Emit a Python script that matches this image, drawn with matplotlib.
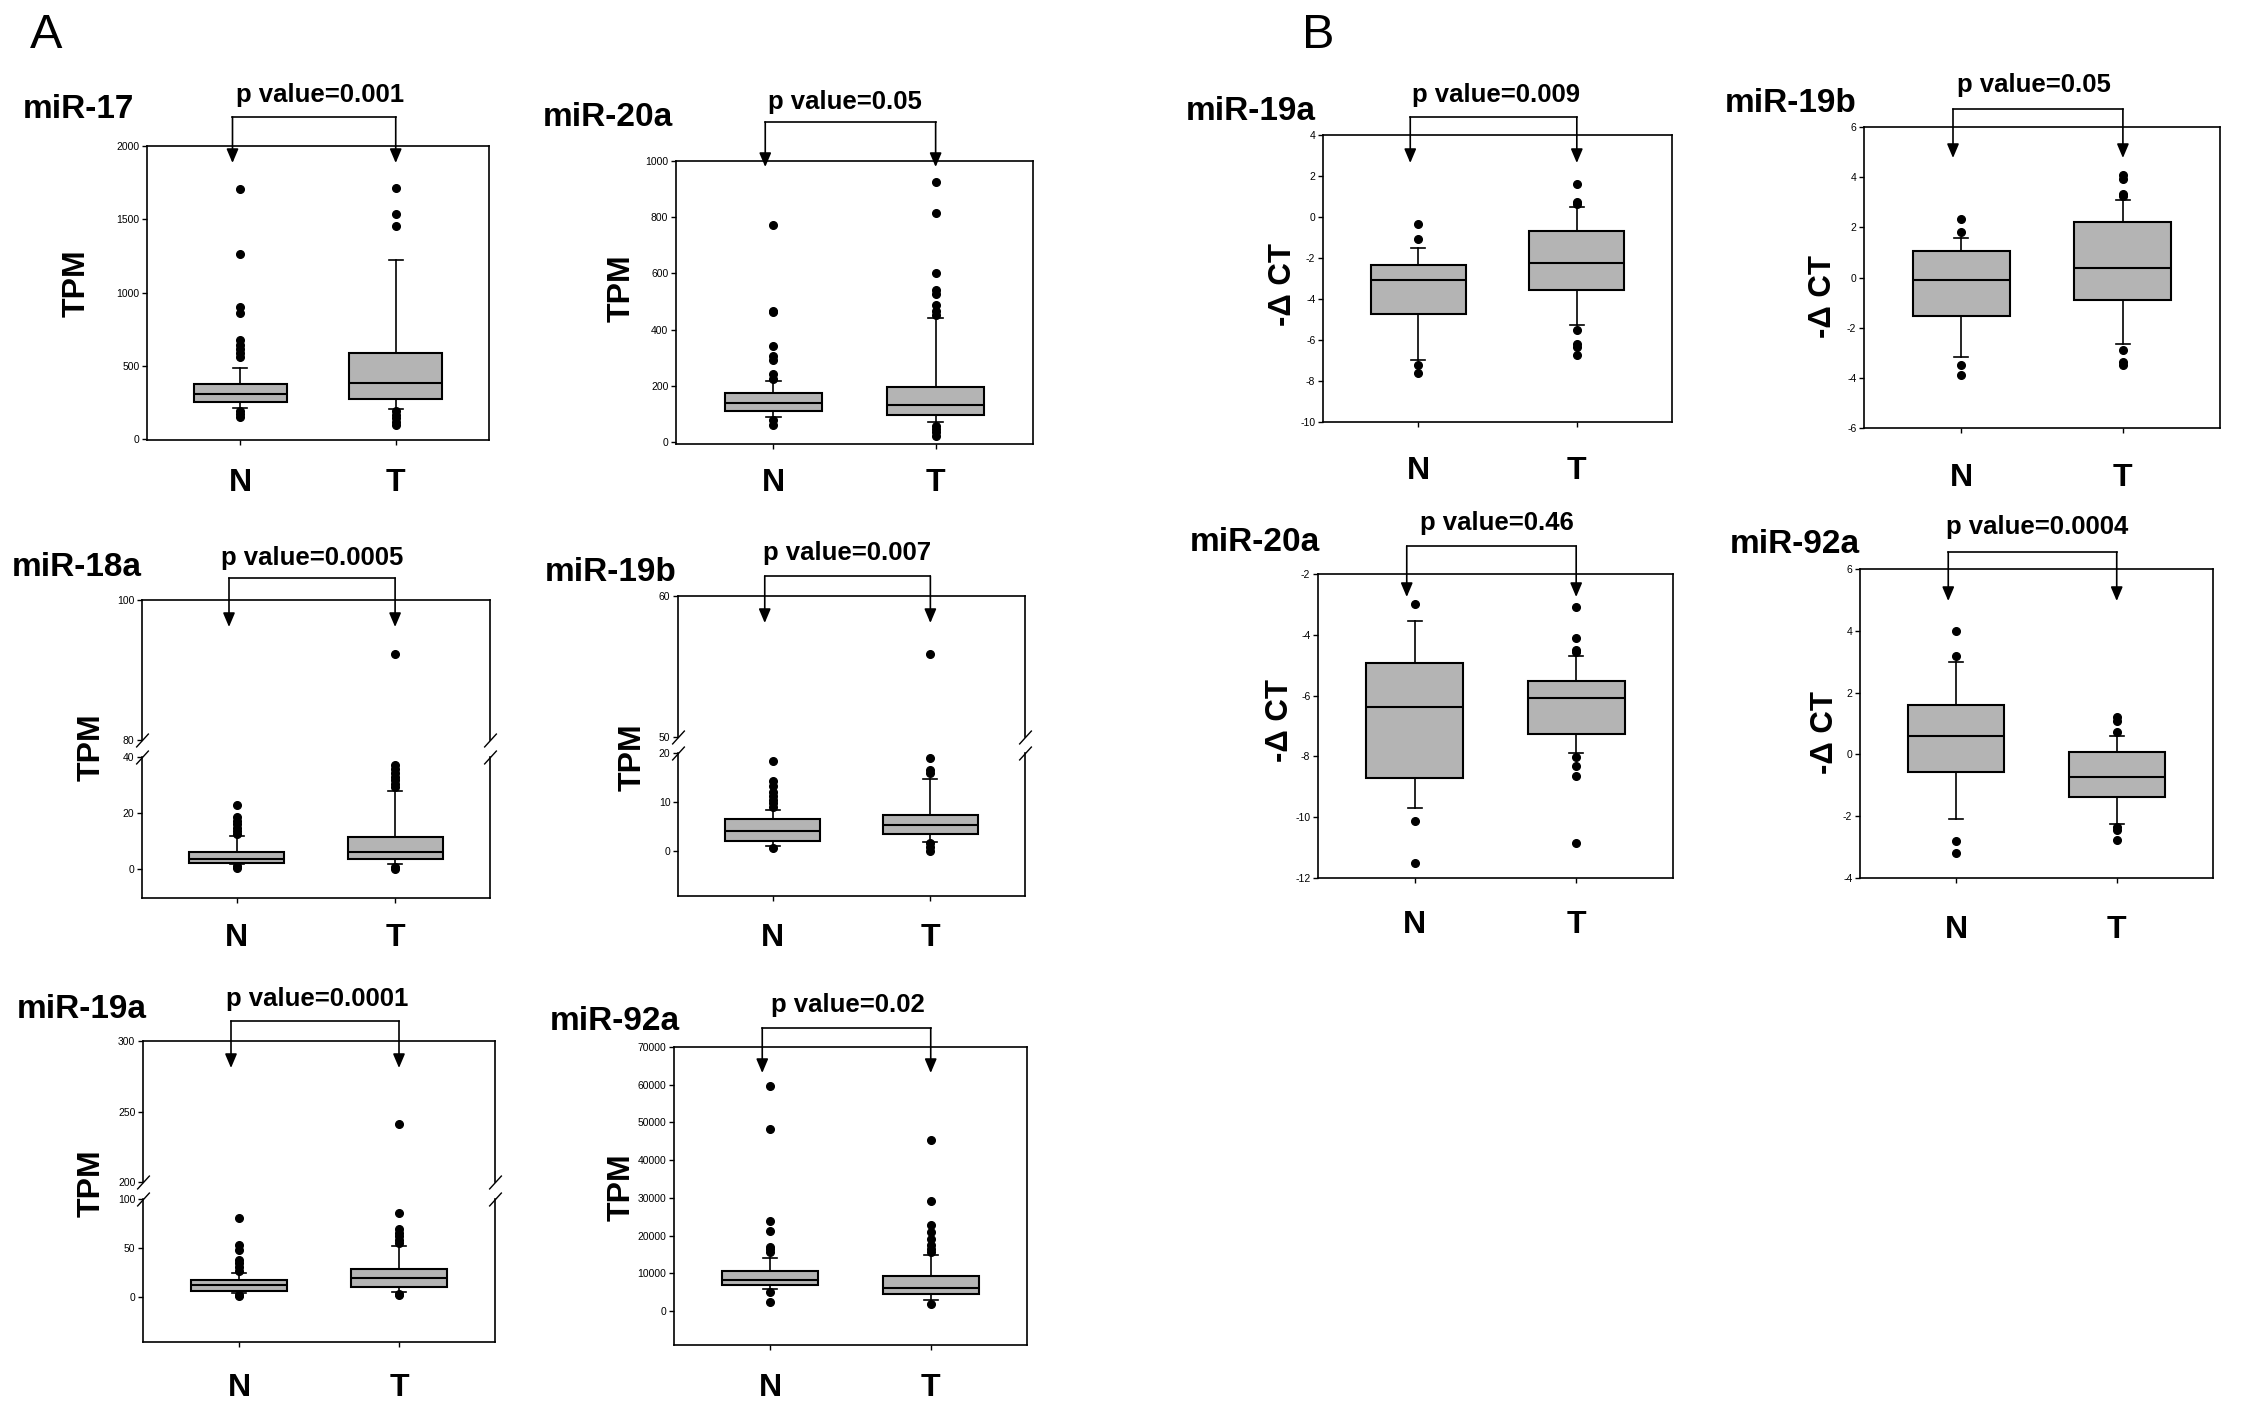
import matplotlib
matplotlib.use('Agg')
import matplotlib.pyplot as plt
import matplotlib.transforms as mtransforms

plt.rcParams['font.family'] = ['Liberation Sans', 'DejaVu Sans']
plt.rcParams['axes.unicode_minus'] = False

# ---- data: box stats are [whisker low, q1, median, q3, whisker high] ----
groups = ['N', 'T']

# A: TPM from small RNA sequencing
a_names = ['miR-17', 'miR-20a', 'miR-18a', 'miR-19b', 'miR-19a', 'miR-92a']
a_pvals = ['0.001', '0.05', '0.0005', '0.007', '0.0001', '0.02']

a17_box = [[216, 255, 311, 380, 486], [209, 273, 386, 591, 1225]]
a17_out = [[1710, 1265, 900, 860, 675, 645, 615, 590, 560, 190, 172, 155],
           [1714, 1539, 1457, 190, 165, 145, 120, 100]]

a20_box = [[89, 111, 139, 174, 216], [70, 96, 133, 196, 441]]
a20_out = [[773, 468, 462, 342, 305, 293, 243, 225, 79, 62],
           [927, 814, 603, 541, 528, 488, 465, 453, 56, 45, 35, 22]]

a18_box = [[1.9, 2.2, 3.6, 6.0, 11.6], [1.8, 3.6, 6.0, 11.4, 27.8]]
a18_out = [[22.9, 18.4, 17.2, 16.0, 14.8, 13.5, 12.5, 1.0, 0.3],
           [92.3, 37.1, 35.7, 34.3, 33.0, 31.7, 30.4, 29.2, 0.8, 0.0]]

a19b_box = [[1.0, 2.1, 4.1, 6.5, 8.4], [1.9, 3.5, 5.2, 7.3, 14.7]]
a19b_out = [[18.4, 14.2, 13.3, 12.0, 11.2, 10.5, 9.8, 9.0, 0.5],
            [55.9, 19.0, 16.6, 16.0, 1.6, 0.8, 0.0]]

a19a_box = [[4.1, 6.2, 12.1, 17.2, 24.1], [5.2, 10.3, 19.0, 28.3, 51.7]]
a19a_out = [[81, 53, 48, 38, 35, 31, 27, 1.7, 0.8],
            [240.8, 85.5, 69, 65, 62, 58, 55, 3.4, 2.0]]

a92_box = [[5800, 6800, 8300, 10600, 14100], [2800, 4400, 6100, 9300, 14800]]
a92_out = [[59600, 48200, 23900, 21200, 17000, 16500, 15600, 5000, 2400],
           [45300, 29200, 22700, 20900, 19200, 17400, 16500, 15600, 1900]]

# B: -delta CT from qRT-PCR
b_names = ['miR-19a', 'miR-19b', 'miR-20a', 'miR-92a']
b_pvals = ['0.009', '0.05', '0.46', '0.0004']

b19a_box = [[-6.98, -4.71, -3.08, -2.32, -1.51], [-5.26, -3.58, -2.26, -0.66, 0.49]]
b19a_out = [[-0.36, -1.05, -7.22, -7.6], [1.6, 0.73, 0.62, -5.53, -6.18, -6.34, -6.75]]

b19b_box = [[-3.18, -1.55, -0.09, 1.05, 1.57], [-2.67, -0.91, 0.36, 2.22, 3.07]]
b19b_out = [[2.32, 1.81, -3.47, -3.87], [4.1, 3.94, 3.34, 3.23, -2.88, -3.37, -3.5]]

b20_box = [[-9.71, -8.70, -6.36, -4.93, -3.53], [-7.90, -7.27, -6.09, -5.51, -4.69]]
b20_out = [[-2.99, -10.12, -11.51],
           [-3.07, -4.11, -4.49, -4.58, -8.01, -8.32, -8.65, -10.85]]

b92_box = [[-2.08, -0.56, 0.59, 1.60, 2.98], [-2.24, -1.39, -0.72, 0.09, 0.59]]
b92_out = [[3.98, 3.2, -2.81, -3.19], [1.22, 1.09, 0.74, -2.35, -2.45, -2.78]]

GREY = '#b4b4b4'
W, H = 2268, 1422
fig = plt.figure(figsize=(W / 100, H / 100), dpi=100)


def add_ax(box):
    x0, y0, x1, y1 = box
    return fig.add_axes([x0 / W, 1 - y1 / H, (x1 - x0) / W, (y1 - y0) / H])


def draw_boxes(ax, boxes, outs):
    stats = []
    for b, o in zip(boxes, outs):
        stats.append(dict(whislo=b[0], q1=b[1], med=b[2], q3=b[3], whishi=b[4], fliers=o))
    ax.bxp(stats, positions=[1, 2], widths=0.6, capwidths=0.09, patch_artist=True,
           boxprops=dict(facecolor=GREY, edgecolor='k', lw=1.5),
           medianprops=dict(color='k', lw=1.5),
           whiskerprops=dict(color='k', lw=1.2),
           capprops=dict(color='k', lw=1.2),
           flierprops=dict(marker='o', markerfacecolor='k', markeredgecolor='k',
                           markersize=5.5, linestyle='none'))
    ax.set_xlim(0.4, 2.6)
    for s in ax.spines.values():
        s.set_linewidth(1.2)
    ax.tick_params(axis='y', direction='out', length=3.5, width=1, pad=2, labelsize=7.5)


def x_labels(ax, d):
    pad = (d + 3 - 5) * 0.72
    ax.set_xticks([1, 2], groups, fontsize=23, fontweight='bold', va='center')
    ax.tick_params(axis='x', direction='out', length=3.5, width=1, pad=pad)


def bracket(ax, top_px, tip_px):
    pos = ax.get_position()
    ytop = ((1 - top_px / H) - pos.y0) / pos.height
    ytip = ((1 - tip_px / H) - pos.y0) / pos.height
    tr = mtransforms.blended_transform_factory(ax.transData, ax.transAxes)
    xn, xt = 0.95, 2.0
    ax.plot([xn, xt], [ytop, ytop], transform=tr, color='k', lw=1.2, clip_on=False)
    for x in (xn, xt):
        ax.annotate('', xy=(x, ytip), xycoords=tr, xytext=(x, ytop), textcoords=tr,
                    annotation_clip=False,
                    arrowprops=dict(arrowstyle='-|>,head_length=0.85,head_width=0.36',
                                    color='k', lw=1.2, shrinkA=0, shrinkB=0))


def labels(title, title_xy, pval, p_xy, ylab, ylab_xy, ysize=23):
    fig.text(title_xy[0] / W, 1 - title_xy[1] / H, title, fontsize=24,
             fontweight='bold', ha='left', va='center')
    fig.text(p_xy[0] / W, 1 - p_xy[1] / H, 'p value=' + pval, fontsize=18.5,
             fontweight='bold', ha='center', va='center')
    fig.text(ylab_xy[0] / W, 1 - ylab_xy[1] / H, ylab, fontsize=ysize,
             fontweight='bold', ha='center', va='center', rotation=90)


def single(box, boxes, outs, ylim, yticks, br, d):
    ax = add_ax(box)
    draw_boxes(ax, boxes, outs)
    ax.set_ylim(*ylim)
    ax.set_yticks(yticks)
    x_labels(ax, d)
    bracket(ax, br[0], br[1])
    return ax


def broken(up_box, lo_box, boxes, outs, up_lim, up_ticks, lo_lim, lo_ticks, br, d):
    au = add_ax(up_box)
    al = add_ax(lo_box)
    for ax in (au, al):
        draw_boxes(ax, boxes, outs)
    au.set_ylim(*up_lim)
    au.set_yticks(up_ticks)
    al.set_ylim(*lo_lim)
    al.set_yticks(lo_ticks)
    au.spines['bottom'].set_visible(False)
    al.spines['top'].set_visible(False)
    au.set_xticks([])
    x_labels(al, d)
    mk = dict(marker=[(-1, -1.1), (1, 1.1)], markersize=10, linestyle='none',
              color='k', mec='k', mew=1, clip_on=False)
    au.plot([0, 1], [0, 0], transform=au.transAxes, **mk)
    al.plot([0, 1], [1, 1], transform=al.transAxes, **mk)
    bracket(au, br[0], br[1])
    return au, al


# ---- panel A ----
single((147, 146, 489, 440), a17_box, a17_out, (-5, 2000), range(0, 2001, 500), (117, 163), 40)
labels(a_names[0], (23, 110), a_pvals[0], (320, 95), 'TPM', (77, 283))

single((676, 161, 1033, 444), a20_box, a20_out, (-7, 1000), range(0, 1001, 200), (122, 167), 36)
labels(a_names[1], (543, 117), a_pvals[1], (845, 102), 'TPM', (622, 288))

broken((142, 600, 490, 740), (142, 757, 490, 898), a18_box, a18_out,
       (80, 100), [80, 100], (-10.4, 40), [0, 20, 40], (578, 627), 37)
labels(a_names[2], (12, 567), a_pvals[2], (312, 558), 'TPM', (92, 747))

broken((678, 596, 1025, 737), (678, 753, 1025, 896), a19b_box, a19b_out,
       (50, 60), [50, 60], (-9.2, 20), [0, 10, 20], (576, 623), 39)
labels(a_names[3], (545, 572), a_pvals[3], (847, 553), 'TPM', (633, 757))

broken((143, 1041, 495, 1182), (143, 1199, 495, 1342), a19a_box, a19a_out,
       (200, 300), [200, 250, 300], (-46, 100), [0, 50, 100], (1021, 1068), 43)
labels(a_names[4], (17, 1009), a_pvals[4], (317, 999), 'TPM', (92, 1183))

single((674, 1047, 1027, 1345), a92_box, a92_out, (-9000, 70000), range(0, 70001, 10000), (1028, 1073), 40)
labels(a_names[5], (550, 1022), a_pvals[5], (848, 1005), 'TPM', (622, 1187))

# ---- panel B ----
dct = '-\u0394 CT'
single((1323, 135, 1672, 422), b19a_box, b19a_out, (-10, 4), range(-10, 5, 2), (117, 163), 46)
labels(b_names[0], (1186, 112), b_pvals[0], (1496, 95), dct, (1283, 285), 22.5)

single((1864, 127, 2220, 428), b19b_box, b19b_out, (-6, 6), range(-6, 7, 2), (109, 158), 47)
labels(b_names[1], (1725, 103), b_pvals[1], (2034, 85), dct, (1823, 297), 22.5)

single((1318, 574, 1673, 878), b20_box, b20_out, (-12, -2), range(-12, -1, 2), (546, 597), 44)
labels(b_names[2], (1190, 542), b_pvals[2], (1497, 523), dct, (1280, 720), 22.5)

single((1860, 569, 2213, 878), b92_box, b92_out, (-4, 6), range(-4, 7, 2), (552, 601), 49)
labels(b_names[3], (1730, 545), b_pvals[3], (2037, 527), dct, (1825, 732), 22.5)

fig.text(30 / W, 1 - 36 / H, 'A', fontsize=35, ha='left', va='center')
fig.text(1302 / W, 1 - 36 / H, 'B', fontsize=35, ha='left', va='center')

fig.savefig('out.png', dpi=100, facecolor='white')
